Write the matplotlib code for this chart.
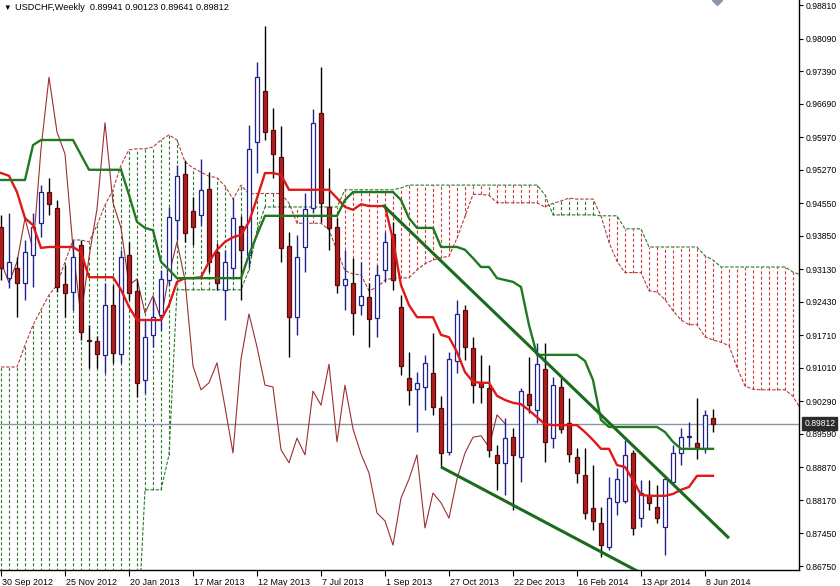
import matplotlib
matplotlib.use("Agg")
import matplotlib.pyplot as plt
import numpy as np
from matplotlib.transforms import ScaledTranslation, blended_transform_factory

plt.rcParams['lines.scale_dashes'] = False
plt.rcParams['font.family'] = ['Liberation Sans', 'DejaVu Sans']

title_text = "USDCHF,Weekly  0.89941 0.90123 0.89641 0.89812"

opens = [0.9404, 0.9294, 0.9316, 0.9284, 0.9344, 0.9413, 0.9479, 0.9445, 0.9281, 0.9264,
         0.9365, 0.9161, 0.9159, 0.9129, 0.9236, 0.9131, 0.9344, 0.9266, 0.9075, 0.9172,
         0.9215, 0.9290, 0.9419, 0.9518, 0.9438, 0.9430, 0.9486, 0.9350, 0.9269, 0.9316,
         0.9406, 0.9344, 0.9587, 0.9696, 0.9613, 0.9554, 0.9363, 0.9210, 0.9361, 0.9445,
         0.9649, 0.9447, 0.9404, 0.9279, 0.9284, 0.9236, 0.9253, 0.9208, 0.9312, 0.9389,
         0.9232, 0.9079, 0.9056, 0.9060, 0.9090, 0.9015, 0.8920, 0.9116, 0.9226, 0.9144,
         0.9071, 0.9058, 0.8914, 0.8897, 0.8952, 0.8910, 0.9045, 0.9011, 0.9099, 0.8950,
         0.9060, 0.8983, 0.8910, 0.8871, 0.8800, 0.8768, 0.8716, 0.8813, 0.8815, 0.8918,
         0.8778, 0.8828, 0.8802, 0.8759, 0.8856, 0.8918, 0.8952, 0.8940, 0.8927, 0.89941]
highs = [0.9430, 0.9434, 0.9339, 0.9376, 0.9434, 0.9494, 0.9509, 0.9462, 0.9322, 0.9376,
         0.9376, 0.9193, 0.9170, 0.9284, 0.9279, 0.9355, 0.9372, 0.9290, 0.9204, 0.9253,
         0.9312, 0.9447, 0.9537, 0.9548, 0.9468, 0.9550, 0.9522, 0.9370, 0.9355, 0.9466,
         0.9428, 0.9623, 0.9759, 0.9836, 0.9660, 0.9621, 0.9393, 0.9387, 0.9477, 0.9658,
         0.9748, 0.9531, 0.9423, 0.9355, 0.9337, 0.9329, 0.9284, 0.9322, 0.9393, 0.9415,
         0.9258, 0.9135, 0.9092, 0.9129, 0.9176, 0.9041, 0.9135, 0.9247, 0.9236, 0.9167,
         0.9129, 0.9107, 0.8935, 0.8993, 0.8972, 0.9058, 0.9124, 0.9155, 0.9155, 0.9081,
         0.9079, 0.9036, 0.8929, 0.8929, 0.8892, 0.8802, 0.8866, 0.8886, 0.8946, 0.8924,
         0.8860, 0.8860, 0.8849, 0.8871, 0.8935, 0.8972, 0.8985, 0.9036, 0.9010, 0.90123]
lows = [0.9290, 0.9273, 0.9210, 0.9247, 0.9275, 0.9382, 0.9430, 0.9264, 0.9210, 0.9226,
        0.9161, 0.9101, 0.9101, 0.9090, 0.9112, 0.9112, 0.9247, 0.9038, 0.9047, 0.9146,
        0.9183, 0.9279, 0.9376, 0.9372, 0.9365, 0.9408, 0.9307, 0.9269, 0.9204, 0.9294,
        0.9247, 0.9318, 0.9520, 0.9591, 0.9509, 0.9329, 0.9124, 0.9172, 0.9307, 0.9434,
        0.9415, 0.9355, 0.9262, 0.9226, 0.9172, 0.9215, 0.9146, 0.9167, 0.9286, 0.9269,
        0.9086, 0.9021, 0.8963, 0.9011, 0.9000, 0.8888, 0.8914, 0.9090, 0.9118, 0.9026,
        0.9026, 0.8909, 0.8839, 0.8828, 0.8796, 0.8856, 0.9004, 0.8983, 0.8899, 0.8929,
        0.8961, 0.8899, 0.8854, 0.8776, 0.8753, 0.8694, 0.8710, 0.8785, 0.8811, 0.8742,
        0.8759, 0.8796, 0.8768, 0.8699, 0.8849, 0.8892, 0.8931, 0.8905, 0.8918, 0.89641]
closes = [0.9316, 0.9329, 0.9284, 0.9350, 0.9404, 0.9479, 0.9453, 0.9275, 0.9262, 0.9339,
          0.9178, 0.9159, 0.9131, 0.9236, 0.9133, 0.9339, 0.9262, 0.9069, 0.9167, 0.9210,
          0.9292, 0.9425, 0.9514, 0.9391, 0.9404, 0.9484, 0.9329, 0.9284, 0.9329, 0.9423,
          0.9355, 0.9572, 0.9726, 0.9608, 0.9561, 0.9359, 0.9210, 0.9339, 0.9443, 0.9628,
          0.9456, 0.9402, 0.9279, 0.9292, 0.9219, 0.9256, 0.9206, 0.9301, 0.9372, 0.9290,
          0.9105, 0.9054, 0.9069, 0.9112, 0.9017, 0.8918, 0.9120, 0.9217, 0.9146, 0.9064,
          0.9060, 0.8925, 0.8897, 0.8950, 0.8914, 0.9051, 0.9021, 0.9109, 0.8942, 0.9064,
          0.8970, 0.8916, 0.8875, 0.8789, 0.8772, 0.8720, 0.8821, 0.8862, 0.8914, 0.8757,
          0.8832, 0.8811, 0.8778, 0.8862, 0.8918, 0.8952, 0.8955, 0.8931, 0.9000, 0.89812]

tenkan = [0.9520, 0.9514, 0.9479, 0.9423, 0.9408, 0.9359, 0.9361, 0.9361, 0.9361, 0.9361,
          0.9350, 0.9296, 0.9296, 0.9296, 0.9296, 0.9269, 0.9232, 0.9204, 0.9204, 0.9204,
          0.9204, 0.9236, 0.9286, 0.9294, 0.9294, 0.9296, 0.9329, 0.9355, 0.9372, 0.9382,
          0.9387, 0.9415, 0.9466, 0.9520, 0.9520, 0.9516, 0.9484, 0.9484, 0.9484, 0.9484,
          0.9484, 0.9484, 0.9466, 0.9447, 0.9441, 0.9453, 0.9449, 0.9449, 0.9449, 0.9376,
          0.9279, 0.9236, 0.9210, 0.9210, 0.9210, 0.9172, 0.9167, 0.9135, 0.9092, 0.9071,
          0.9069, 0.9069, 0.9041, 0.9032, 0.9026, 0.9023, 0.9010, 0.8995, 0.8980, 0.8978,
          0.8978, 0.8978, 0.8978, 0.8963, 0.8946, 0.8927, 0.8927, 0.8892, 0.8888, 0.8860,
          0.8828, 0.8826, 0.8826, 0.8826, 0.8830, 0.8839, 0.8845, 0.8869, 0.8869, 0.8869]
kijun = [0.9505, 0.9505, 0.9505, 0.9505, 0.9580, 0.9591, 0.9591, 0.9591, 0.9591, 0.9591,
         0.9559, 0.9527, 0.9527, 0.9527, 0.9527, 0.9527, 0.9473, 0.9415, 0.9402, 0.9397,
         0.9329, 0.9312, 0.9294, 0.9294, 0.9294, 0.9294, 0.9294, 0.9294, 0.9294, 0.9294,
         0.9294, 0.9344, 0.9387, 0.9428, 0.9428, 0.9428, 0.9428, 0.9428, 0.9428, 0.9428,
         0.9428, 0.9428, 0.9428, 0.9462, 0.9479, 0.9479, 0.9479, 0.9479, 0.9479, 0.9479,
         0.9462, 0.9423, 0.9402, 0.9402, 0.9402, 0.9361, 0.9361, 0.9361, 0.9355, 0.9337,
         0.9318, 0.9318, 0.9294, 0.9290, 0.9286, 0.9275, 0.9193, 0.9129, 0.9129, 0.9129,
         0.9129, 0.9129, 0.9129, 0.9116, 0.9075, 0.8989, 0.8974, 0.8974, 0.8974, 0.8974,
         0.8974, 0.8974, 0.8974, 0.8963, 0.8942, 0.8927, 0.8927, 0.8927, 0.8927, 0.8927]

# cloud spans, bar 0 .. 100 (the cloud runs 26 bars ahead of price)
span_a = [0.9103, 0.9103, 0.9103, 0.9150, 0.9193, 0.9226, 0.9258, 0.9279, 0.9329, 0.9376,
          0.9376, 0.9372, 0.9408, 0.9451, 0.9484, 0.9537, 0.9570, 0.9572, 0.9572, 0.9576,
          0.9591, 0.9602, 0.9591, 0.9544, 0.9531, 0.9522, 0.9513, 0.9510, 0.9492, 0.9464,
          0.9494, 0.9475, 0.9476, 0.9476, 0.9476, 0.9476, 0.9455, 0.9412, 0.9412, 0.9412,
          0.9412, 0.9398, 0.9353, 0.9310, 0.9303, 0.9301, 0.9267, 0.9274, 0.9290, 0.9294,
          0.9294, 0.9295, 0.9312, 0.9325, 0.9333, 0.9338, 0.9341, 0.9380, 0.9427, 0.9474,
          0.9474, 0.9472, 0.9456, 0.9456, 0.9456, 0.9456, 0.9456, 0.9456, 0.9447, 0.9455,
          0.9460, 0.9466, 0.9464, 0.9464, 0.9464, 0.9428, 0.9371, 0.9330, 0.9306, 0.9306,
          0.9306, 0.9267, 0.9264, 0.9248, 0.9224, 0.9204, 0.9194, 0.9194, 0.9168, 0.9161,
          0.9156, 0.9149, 0.9102, 0.9062, 0.9055, 0.9054, 0.9054, 0.9054, 0.9054, 0.9040,
          0.9011]
span_b = [0.8500, 0.8500, 0.8500, 0.8500, 0.8500, 0.8500, 0.8500, 0.8500, 0.8500, 0.8500,
          0.8500, 0.8500, 0.8500, 0.8500, 0.8500, 0.8500, 0.8500, 0.8500, 0.8839, 0.8839,
          0.8839, 0.8914, 0.9269, 0.9269, 0.9269, 0.9269, 0.9269, 0.9269, 0.9269, 0.9269,
          0.9269, 0.9312, 0.9397, 0.9447, 0.9447, 0.9447, 0.9447, 0.9447, 0.9447, 0.9447,
          0.9447, 0.9447, 0.9447, 0.9484, 0.9484, 0.9484, 0.9484, 0.9484, 0.9484, 0.9484,
          0.9488, 0.9494, 0.9494, 0.9494, 0.9494, 0.9494, 0.9494, 0.9494, 0.9494, 0.9494,
          0.9494, 0.9494, 0.9494, 0.9494, 0.9494, 0.9494, 0.9494, 0.9494, 0.9473, 0.9430,
          0.9430, 0.9430, 0.9430, 0.9430, 0.9430, 0.9428, 0.9428, 0.9428, 0.9400, 0.9400,
          0.9400, 0.9361, 0.9361, 0.9361, 0.9361, 0.9361, 0.9361, 0.9361, 0.9342, 0.9333,
          0.9318, 0.9318, 0.9318, 0.9318, 0.9318, 0.9318, 0.9318, 0.9318, 0.9318, 0.9307,
          0.9301]

chikou_shift = 26

# hand-drawn trend lines: (bar, price) end points
trend_upper = [(47.75, 0.9451), (91.0, 0.8735)]
trend_lower = [(55.0, 0.8888), (80.0, 0.8660)]

bid = 0.89812

price_ticks = [0.98810, 0.98090, 0.97390, 0.96690, 0.95970, 0.95270, 0.94550, 0.93850,
               0.93130, 0.92430, 0.91710, 0.91010, 0.90290, 0.89590, 0.88870, 0.88170,
               0.87450, 0.86750]
date_tick_bars = [0, 8, 16, 24, 32, 40, 48, 56, 64, 72, 80, 88]
date_labels = ["30 Sep 2012", "25 Nov 2012", "20 Jan 2013", "17 Mar 2013", "12 May 2013",
               "7 Jul 2013", "1 Sep 2013", "27 Oct 2013", "22 Dec 2013", "16 Feb 2014",
               "13 Apr 2014", "8 Jun 2014"]

# ---------------------------------------------------------------------------
W, H = 840, 586
fig = plt.figure(figsize=(W / 100, H / 100), dpi=100)
fig.patch.set_facecolor('white')
ax = fig.add_axes([0, 16 / H, 799 / W, 570 / H])
ax.set_facecolor('white')
ax.set_xlim(-0.125, 99.75)
ax.set_ylim(0.86665, 0.98920)

o = np.array(opens); h = np.array(highs); l = np.array(lows); c = np.array(closes)
n = len(o)
x = np.arange(n)

# Kumo histogram (dotted vertical lines)
sa = np.array(span_a); sb = np.array(span_b)
xs = np.arange(len(sa))
green_k = '#2a7a2a'
red_k = '#d23a3a'
upk = sa >= sb
ax.vlines(xs[upk], np.minimum(sa, sb)[upk], np.maximum(sa, sb)[upk], colors=green_k,
          linestyles=(0, (2.2, 1.6)), lw=0.8, zorder=1)
ax.vlines(xs[~upk], np.minimum(sa, sb)[~upk], np.maximum(sa, sb)[~upk], colors=red_k,
          linestyles=(0, (2.2, 1.6)), lw=0.8, zorder=1)
ax.plot(xs, sa, color='#b04040', lw=0.8, linestyle=(0, (2.5, 1.2)), zorder=2)
ax.plot(xs, sb, color='#2a7a2a', lw=0.8, linestyle=(0, (2.5, 1.2)), zorder=2)

# bid line
ax.axhline(bid, color='#8a96a6', lw=1.0, zorder=2.5)

# Chikou span
ch_x = np.arange(n - chikou_shift)
ax.plot(ch_x, c[chikou_shift:], color='#9a3030', lw=0.8, zorder=3)

# candles
up = c >= o
bull_edge = '#23238c'
bear_fill = '#b31f1f'
ax.vlines(x[up], l[up], h[up], color=bull_edge, lw=1.0, zorder=4)
ax.vlines(x[~up], l[~up], h[~up], color='black', lw=1.0, zorder=4)
lo = np.minimum(o, c)
bh = np.maximum(np.abs(c - o), 0.00004)
ax.bar(x[up], bh[up], bottom=lo[up], width=0.62, facecolor='white', edgecolor=bull_edge,
       lw=0.9, zorder=4.5)
ax.bar(x[~up], bh[~up], bottom=lo[~up], width=0.62, facecolor=bear_fill, edgecolor='#5a0a0a',
       lw=0.9, zorder=4.5)

# Tenkan / Kijun
ax.plot(x, tenkan, color='#e01818', lw=1.7, zorder=5, solid_joinstyle='round')
ax.plot(x, kijun, color='#1f7a1f', lw=1.7, zorder=5, solid_joinstyle='round')

# trend lines
for tl in (trend_upper, trend_lower):
    ax.plot([tl[0][0], tl[1][0]], [tl[0][1], tl[1][1]], color='#1c6a1c', lw=2.2,
            zorder=6, solid_capstyle='butt')

# axes styling
for s in ('left', 'top'):
    ax.spines[s].set_visible(False)
for s in ('right', 'bottom'):
    ax.spines[s].set_color('black')
    ax.spines[s].set_linewidth(1.0)
ax.yaxis.tick_right()
ax.set_yticks(price_ticks)
ax.set_yticklabels([f"{v:.5f}" for v in price_ticks])
ax.tick_params(axis='y', direction='out', length=3, width=0.8, pad=2, labelsize=6.2,
               colors='black')
ax.set_xticks(date_tick_bars)
ax.set_xticklabels(date_labels, ha='left')
ax.tick_params(axis='x', direction='out', length=4, width=0.8, pad=1.5, labelsize=6.4)
off = ScaledTranslation(1.0 / 72, 0, fig.dpi_scale_trans)
for lab in ax.get_xticklabels():
    lab.set_transform(lab.get_transform() + off)

# bid label box on the price scale
tr = blended_transform_factory(ax.transAxes, ax.transData)
ax.text(1.0065, bid, f"{bid:.5f}", transform=tr, ha='left', va='center', fontsize=6.2,
        color='white', clip_on=False, zorder=10,
        bbox=dict(boxstyle='square,pad=0.2', facecolor='#2b2b2b', edgecolor='#2b2b2b'))

# chart-shift marker at top
ax.plot([717 / 799], [1.0], marker='D', markersize=5, color='#8a96a6',
        transform=ax.transAxes, clip_on=True, zorder=10)

# title
fig.text(3 / W, 1 - 8 / H, "\u25BC", fontsize=5.5, va='center', ha='left', color='black')
fig.text(15 / W, 1 - 8 / H, title_text, fontsize=6.6, va='center', ha='left', color='black')

fig.savefig("out.png", dpi=100)
